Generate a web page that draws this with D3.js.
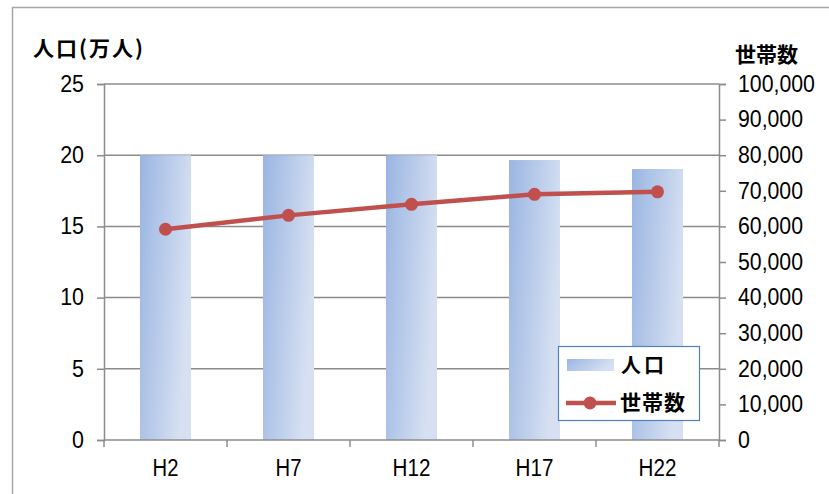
<!DOCTYPE html>
<html><head><meta charset="utf-8">
<script src="https://cdn.jsdelivr.net/npm/d3@7"></script>
<style>
html,body{margin:0;padding:0;background:#fff;}
svg{display:block;}
text{font-family:"Liberation Sans",Arial,"Noto Sans CJK JP",sans-serif;fill:#000;}
.cjk{font-family:"Noto Sans CJK JP",sans-serif;font-weight:bold;}
</style></head>
<body>
<svg id="c" width="829" height="494"></svg>
<script>
const categories = ["H2","H7","H12","H17","H22"];
const population = [20.0, 20.0, 20.0, 19.66, 19.03];   // 万人
const households = [59200, 63100, 66200, 69000, 69700];
const leftTicks = [0,5,10,15,20,25];
const rightTicks = [0,10000,20000,30000,40000,50000,60000,70000,80000,90000,100000];

const svg = d3.select("#c");
const m = {left:104, right:719, top:84, bottom:440};

// outer frame
svg.append("rect").attr("x",12.5).attr("y",7.5).attr("width",840).attr("height",500)
  .attr("fill","#fff").attr("stroke","#a6a6a6").attr("stroke-width",1.5);

const defs = svg.append("defs");
const g = defs.append("linearGradient").attr("id","barGrad")
  .attr("x1","0").attr("y1","0").attr("x2","1").attr("y2","0.35");
g.append("stop").attr("offset","0%").attr("stop-color","#9ab5e2");
g.append("stop").attr("offset","100%").attr("stop-color","#d6e0f2");

const x = d3.scaleBand().domain(categories).range([m.left,m.right]).paddingInner(0.585).paddingOuter(0.2925);
const xb = d3.scaleBand().domain(categories).range([m.left,m.right]);
const yL = d3.scaleLinear().domain([0,25]).range([m.bottom,m.top]);
const yR = d3.scaleLinear().domain([0,100000]).range([m.bottom,m.top]);

// gridlines
svg.append("g").selectAll("line").data(leftTicks.filter(d=>d>0)).join("line")
  .attr("x1",m.left).attr("x2",m.right).attr("y1",d=>yL(d)).attr("y2",d=>yL(d))
  .attr("stroke","#8c8c8c").attr("stroke-width",1.5);

// bars
svg.append("g").selectAll("rect").data(categories).join("rect")
  .attr("x",d=>x(d)).attr("width",x.bandwidth())
  .attr("y",(d,i)=>yL(population[i])).attr("height",(d,i)=>m.bottom-yL(population[i]))
  .attr("fill","url(#barGrad)");

// axes
const axL = svg.append("g").attr("transform",`translate(${m.left},0)`)
  .call(d3.axisLeft(yL).tickValues(leftTicks).tickSize(7).tickPadding(13));
const axR = svg.append("g").attr("transform",`translate(${m.right},0)`)
  .call(d3.axisRight(yR).tickValues(rightTicks).tickSize(7).tickPadding(12).tickFormat(d3.format(",")));
const axB = svg.append("g").attr("transform",`translate(0,${m.bottom})`)
  .call(d3.axisBottom(xb).tickSize(0).tickPadding(20));
// category separator ticks
svg.append("g").selectAll("line").data(d3.range(categories.length+1)).join("line")
  .attr("x1",i=>m.left+i*xb.step()).attr("x2",i=>m.left+i*xb.step())
  .attr("y1",m.bottom).attr("y2",m.bottom+7).attr("stroke","#8c8c8c").attr("stroke-width",1.5);

function glyphWidth(s){
  let w=0;
  for(const ch of s){ w += ch===","?5.5 : ch==="H"?14 : 11.9; }
  return w;
}
[axL,axR,axB].forEach(a=>{
  a.selectAll("path.domain").attr("stroke","#8c8c8c").attr("stroke-width",1.5);
  a.selectAll(".tick line").attr("stroke","#8c8c8c").attr("stroke-width",1.5);
  a.selectAll("text").attr("font-size",23).attr("font-family","'Liberation Sans',Arial,sans-serif").attr("fill","#000")
    .each(function(){
      d3.select(this).attr("textLength", glyphWidth(this.textContent)).attr("lengthAdjust","spacingAndGlyphs");
    });
});
axB.select("path.domain").attr("d",`M${m.left},0H${m.right}`);

// line
const lineGen = d3.line().x((d,i)=>xb(categories[i])+xb.bandwidth()/2).y(d=>yR(d));
svg.append("path").datum(households).attr("d",lineGen)
  .attr("fill","none").attr("stroke","#c0504d").attr("stroke-width",4.5);
svg.append("g").selectAll("circle").data(households).join("circle")
  .attr("cx",(d,i)=>xb(categories[i])+xb.bandwidth()/2).attr("cy",d=>yR(d)).attr("r",6.5)
  .attr("fill","#c0504d");

// axis titles
svg.append("text").attr("class","cjk").attr("x",33).attr("y",56).attr("font-size",21)
  .attr("letter-spacing",2).text("人口(万人)");
svg.append("text").attr("class","cjk").attr("x",735).attr("y",62).attr("font-size",21)
  .text("世帯数");

// legend
const lg = svg.append("g");
lg.append("rect").attr("x",558.5).attr("y",346.5).attr("width",141).attr("height",74)
  .attr("fill","#fff").attr("stroke","#4f81bd").attr("stroke-width",1.2);
lg.append("rect").attr("x",567).attr("y",359).attr("width",47).attr("height",12).attr("fill","url(#barGrad)");
lg.append("text").attr("class","cjk").attr("x",621).attr("y",373).attr("font-size",20).attr("letter-spacing",3).text("人口");
lg.append("line").attr("x1",566).attr("x2",616).attr("y1",403).attr("y2",403)
  .attr("stroke","#c0504d").attr("stroke-width",4.5);
lg.append("circle").attr("cx",590).attr("cy",403).attr("r",6.5).attr("fill","#c0504d");
lg.append("text").attr("class","cjk").attr("x",620).attr("y",410).attr("font-size",21).attr("letter-spacing",1).text("世帯数");
</script>
</body></html>
